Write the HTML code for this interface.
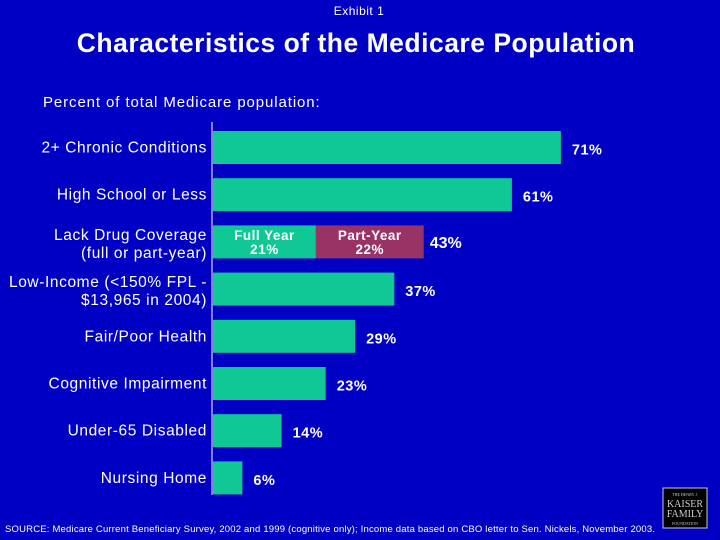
<!DOCTYPE html>
<html><head><meta charset="utf-8"><style>
body{margin:0;width:720px;height:540px;background:#0000c4;overflow:hidden;font-family:"Liberation Sans",sans-serif;color:#fff}
svg{display:block}
</style></head><body>
<svg width="720" height="540">
<rect x="0" y="0" width="720" height="540" fill="#0000c4"/>
<text x="359" y="15" font-size="12" letter-spacing="0.5" text-anchor="middle" fill="#fff">Exhibit 1</text>
<text x="356" y="52" font-size="26.5" letter-spacing="0.5" font-weight="bold" text-anchor="middle" fill="#fff">Characteristics of the Medicare Population</text>
<text x="43" y="107" font-size="15" letter-spacing="0.9" fill="#fff">Percent of total Medicare population:</text>
<line x1="212" y1="122" x2="212" y2="495" stroke="#fff" stroke-width="1"/>
<g id="bars"></g>
<text x="5" y="532" font-size="9.5" textLength="650" lengthAdjust="spacing" fill="#fff">SOURCE: Medicare Current Beneficiary Survey, 2002 and 1999 (cognitive only); Income data based on CBO letter to Sen. Nickels, November 2003.</text>
<g>
<rect x="663" y="488" width="44" height="40" fill="#000" stroke="#ccc" stroke-width="1"/>
<text x="685" y="496" font-size="4" text-anchor="middle" fill="#ccc" font-family="Liberation Serif,serif">THE HENRY J.</text>
<text x="685" y="507" font-size="10" text-anchor="middle" fill="#ccc" font-family="Liberation Serif,serif">KAISER</text>
<text x="685" y="517" font-size="10" text-anchor="middle" fill="#ccc" font-family="Liberation Serif,serif">FAMILY</text>
<text x="685" y="525" font-size="4" text-anchor="middle" fill="#ccc" font-family="Liberation Serif,serif">FOUNDATION</text>
</g>
</svg>
<script>
const categories=[["2+ Chronic Conditions"],["High School or Less"],["Lack Drug Coverage","(full or part-year)"],["Low-Income (<150% FPL -","$13,965 in 2004)"],["Fair/Poor Health"],["Cognitive Impairment"],["Under-65 Disabled"],["Nursing Home"]];
const values=[71,61,43,37,29,23,14,6];
const fullYear=21;
const partYear=22;
const NS="http://www.w3.org/2000/svg";
const g=document.getElementById('bars');
const x0=213,pxPer=4.9,y0=131,step=47.2,bh=33;
const xs=v=>x0+v*pxPer;
function el(t,a){const e=document.createElementNS(NS,t);for(const k in a)e.setAttribute(k,a[k]);g.appendChild(e);return e;}
values.forEach((v,i)=>{
  const y=y0+i*step, cy=y+bh/2;
  if(i===2){
    const r1=el('rect',{x:x0,y:y,width:xs(fullYear)-x0,height:bh,fill:'#10c896'});
    
    
    const r2=el('rect',{x:xs(fullYear),y:y,width:xs(fullYear+partYear)-xs(fullYear),height:bh,fill:'#993366'});
    
    
    const segs=[["Full Year",fullYear,x0,xs(fullYear)],["Part-Year",partYear,xs(fullYear),xs(fullYear+partYear)]];
    segs.forEach(s=>{
      const t1=el('text',{x:(s[2]+s[3])/2,y:cy-2,'font-size':13.5,'font-weight':'bold','letter-spacing':0.5,'text-anchor':'middle',fill:'#fff'});t1.textContent=s[0];
      
      
      const t2=el('text',{x:(s[2]+s[3])/2,y:cy+12,'font-size':13.5,'font-weight':'bold','letter-spacing':0.5,'text-anchor':'middle',fill:'#fff'});t2.textContent=s[1]+'%';
      
      
    });
    const vt=el('text',{x:xs(v)+6,y:cy+6,'font-size':16,'font-weight':'bold',fill:'#fff'});vt.textContent=v+'%';
    
    
  } else {
    const r=el('rect',{x:x0,y:y,width:xs(v)-x0,height:bh,fill:'#10c896'});
    
    
    const vt=el('text',{x:xs(v)+11,y:cy+7,'font-size':14.5,'font-weight':'bold','letter-spacing':0.5,fill:'#fff'});vt.textContent=v+'%';
    
    
  }
  const lines=categories[i];
  lines.forEach((ln,j)=>{
    const off=lines.length===1?5:(j===0?-2:16);
    const t=el('text',{x:207,y:cy+off,'font-size':15.5,'letter-spacing':0.6,'text-anchor':'end',fill:'#fff'});t.textContent=ln;
    
    
  });
});
</script>
</body></html>
